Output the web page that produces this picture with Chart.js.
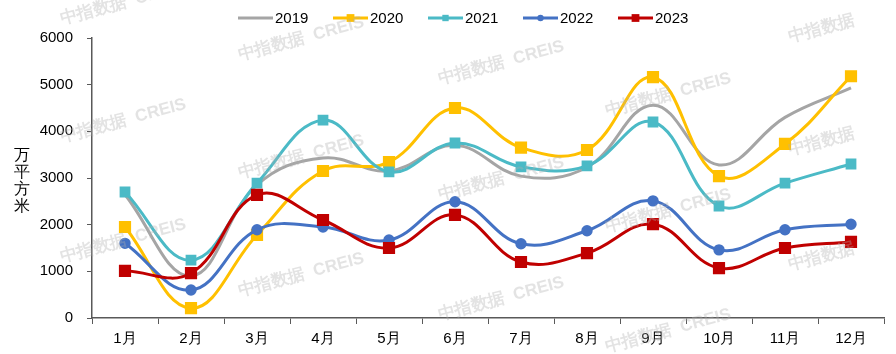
<!DOCTYPE html>
<html>
<head>
<meta charset="utf-8">
<script src="https://cdn.jsdelivr.net/npm/chart.js@4.4.0/dist/chart.umd.min.js"></script>
<style>
  html, body { margin: 0; padding: 0; background: #fff; }
  #wrap { width: 896px; height: 354px; position: relative; }
</style>
</head>
<body>
<div id="wrap"><canvas id="mycanvas" width="896" height="354"></canvas></div>
<script>
var months = ["1月","2月","3月","4月","5月","6月","7月","8月","9月","10月","11月","12月"];
var years = ["2019","2020","2021","2022","2023"];

var v2019 = [2640, 900, 2850, 3430, 3150, 3700, 3040, 3230, 4560, 3280, 4300, 4930];
var v2020 = [1950, 210, 1780, 3150, 3340, 4500, 3650, 3600, 5160, 3040, 3730, 5180];
var v2021 = [2700, 1240, 2890, 4240, 3130, 3750, 3240, 3260, 4200, 2400, 2890, 3300];
var v2022 = [1600, 600, 1890, 1950, 1670, 2490, 1590, 1870, 2510, 1460, 1890, 2010];
var v2023 = [1010, 960, 2640, 2100, 1500, 2210, 1200, 1390, 2010, 1070, 1500, 1630];

var yTicks = [0, 1000, 2000, 3000, 4000, 5000, 6000];
var yTitle = ["万","平","方","米"];

var colors = ["#A5A5A5", "#FFC000", "#4BBAC6", "#4472C4", "#C00000"];
var styles = [false, "rect", "rect", "circle", "rect"];
var radii = [0, 6.5, 5.5, 4.2, 6.5];
var series = [v2019, v2020, v2021, v2022, v2023];

var font = "'Liberation Sans', Arial, sans-serif";

var datasets = [];
for (var i in series) {
  datasets.push({
    label: years[i],
    data: series[i],
    borderColor: colors[i],
    backgroundColor: colors[i],
    pointBackgroundColor: colors[i],
    pointBorderColor: colors[i],
    pointStyle: styles[i] || "circle",
    pointRadius: radii[i],
    pointHoverRadius: radii[i],
    borderWidth: 3,
    tension: 0.4,
    fill: false,
    order: 4 - i
  });
}

// watermark text
var marks = [
  [62, 24, true], [240, 60, true], [790, 42, false],
  [62, 142, true], [240, 178, true], [440, 84, true], [607, 116, true], [790, 155, false],
  [62, 262, true], [240, 296, true], [440, 200, true], [607, 232, true], [790, 270, false],
  [440, 320, true], [607, 352, true], [440, -32, true]
];

var extras = {
  id: "extras",
  afterDraw: function(chart) {
    var ctx = chart.ctx;
    ctx.save();
    // y title, stacked characters
    ctx.fillStyle = "#000";
    ctx.font = "16px " + font;
    ctx.textAlign = "center";
    ctx.textBaseline = "middle";
    for (var k = 0; k < yTitle.length; k++) {
      ctx.fillText(yTitle[k], 22, 156 + k * 17);
    }
    // legend
    ctx.font = "15px " + font;
    ctx.textAlign = "left";
    var ds = chart.data.datasets;
    for (var j = 0; j < ds.length; j++) {
      var x0 = 238 + j * 95, y0 = 18;
      ctx.strokeStyle = ds[j].borderColor;
      ctx.lineWidth = 3;
      ctx.beginPath();
      ctx.moveTo(x0, y0);
      ctx.lineTo(x0 + 35, y0);
      ctx.stroke();
      if (styles[j]) {
        ctx.fillStyle = ds[j].borderColor;
        Chart.helpers.drawPoint(ctx, { pointStyle: styles[j], radius: radii[j] - 1, rotation: 0, borderWidth: 0 }, x0 + 17.5, y0);
      }
      ctx.fillStyle = "#000";
      ctx.fillText(ds[j].label, x0 + 37, y0 + 1);
    }
    // watermarks
    ctx.fillStyle = "rgba(175,175,175,0.35)";
    ctx.font = "bold 17px " + font;
    ctx.textAlign = "left";
    ctx.textBaseline = "alphabetic";
    for (var m = 0; m < marks.length; m++) {
      ctx.save();
      ctx.translate(marks[m][0], marks[m][1]);
      ctx.rotate(-15 * Math.PI / 180);
      ctx.fillText(marks[m][2] ? "中指数据  CREIS" : "中指数据", 0, 0);
      ctx.restore();
    }
    ctx.restore();
  }
};

var ctx = document.getElementById("mycanvas");
var LineGraph = new Chart(ctx, {
  type: "line",
  data: { labels: months, datasets: datasets },
  options: {
    responsive: false,
    animation: false,
    events: [],
    layout: { padding: { top: 38, right: 12, left: 0, bottom: 0 } },
    plugins: { legend: { display: false }, tooltip: { enabled: false } },
    scales: {
      x: {
        offset: true,
        grid: { drawOnChartArea: false, drawTicks: true, tickLength: 6, color: "#595959", offset: true },
        border: { color: "#595959", width: 1.5 },
        ticks: { color: "#000", font: { size: 15, family: font }, padding: 6, maxRotation: 0 },
        afterFit: function(s) { s.height = 36; }
      },
      y: {
        min: 0, max: 6000,
        afterBuildTicks: function(s) { s.ticks = yTicks.map(function(v) { return { value: v }; }); },
        grid: { drawOnChartArea: false, drawTicks: true, tickLength: 5, color: "#595959" },
        border: { color: "#595959", width: 1.5 },
        ticks: { color: "#000", font: { size: 15, family: font }, padding: 14,
          callback: function(v) { return String(v); } },
        afterFit: function(s) { s.width = 92; }
      }
    }
  },
  plugins: [extras]
});
</script>
</body>
</html>
